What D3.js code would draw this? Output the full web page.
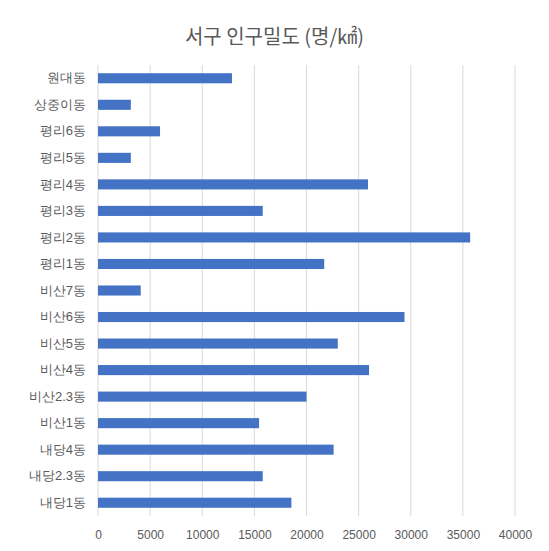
<!DOCTYPE html>
<html><head><meta charset="utf-8">
<script src="https://cdn.jsdelivr.net/npm/d3@7"></script>
<style>body{margin:0;background:#fff}</style>
</head><body>
<script>
// categories top to bottom
var districts = ["원대동","상중이동","평리6동","평리5동","평리4동","평리3동","평리2동","평리1동","비산7동","비산6동","비산5동","비산4동","비산2.3동","비산1동","내당4동","내당2.3동","내당1동"];
var density = [12850,3150,5950,3150,25900,15800,35700,21700,4100,29400,23000,26000,20000,15450,22600,15800,18550];
var ticks = [0,5000,10000,15000,20000,25000,30000,35000,40000];

var W = 549, H = 551;
var svg = d3.select("body").append("svg").attr("width", W).attr("height", H)
  .style("font-family", "'Noto Sans CJK KR','Noto Sans',sans-serif");

var x = d3.scaleLinear().domain([0, 40000]).range([98, 515]);
var y = d3.scaleBand().domain(districts).range([65, 516]).paddingInner(0.62).paddingOuter(0.31);

svg.append("text").attr("x", W/2).attr("y", 44).attr("text-anchor","middle")
  .attr("font-size", 20).attr("fill", "#595959").text("서구 인구밀도 (명/㎢)");

svg.append("g").selectAll("line").data(ticks).join("line")
  .attr("x1", d => x(d)).attr("x2", d => x(d)).attr("y1", 65).attr("y2", 516)
  .attr("stroke", "#d9d9d9");

svg.append("g").selectAll("rect").data(districts).join("rect")
  .attr("x", x(0)).attr("y", d => y(d))
  .attr("width", (d,i) => x(density[i]) - x(0)).attr("height", y.bandwidth())
  .attr("fill", "#4472c4");

var ax = svg.append("g").attr("transform","translate(0,516)")
  .call(d3.axisBottom(x).tickValues(ticks).tickSize(0).tickPadding(14).tickFormat(d3.format("d")));
ax.select(".domain").remove();
ax.selectAll("text").attr("font-size", 12).attr("fill", "#595959");

var ay = svg.append("g").attr("transform","translate(98,0)")
  .call(d3.axisLeft(y).tickSize(0).tickPadding(12));
ay.select(".domain").remove();
ay.selectAll("text").attr("font-size", 13).attr("fill", "#595959");
</script>
</body></html>
